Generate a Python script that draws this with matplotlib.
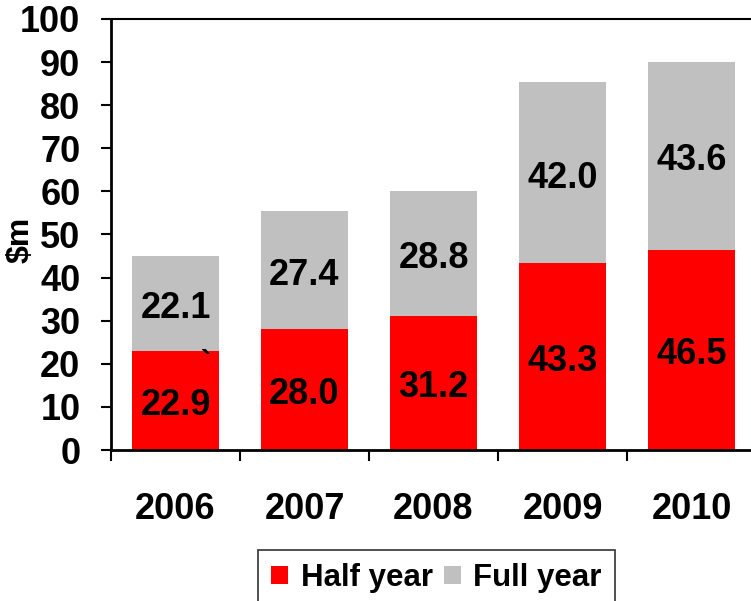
import matplotlib
matplotlib.use("Agg")
import matplotlib.pyplot as plt
import numpy as np

# ---- data ----
years = ["2006", "2007", "2008", "2009", "2010"]
half_year = [22.9, 28.0, 31.2, 43.3, 46.5]
full_year = [22.1, 27.4, 28.8, 42.0, 43.6]
y_ticks = [0, 10, 20, 30, 40, 50, 60, 70, 80, 90, 100]
series_names = ["Half year", "Full year"]
y_label = "$m"

# ---- style ----
RED = "#FF0000"
GREY = "#C0C0C0"
plt.rcParams["font.family"] = ["Liberation Sans", "DejaVu Sans"]
plt.rcParams["font.weight"] = "bold"

W, H = 751, 601
fig = plt.figure(figsize=(W / 100, H / 100), dpi=100)
# axes in pixel terms: left 111, right 756 (past edge), bottom 450, top 19
ax = fig.add_axes([111 / W, (H - 450) / H, (756 - 111) / W, (450 - 19) / H])

x = np.arange(len(years))
bw = 0.675
b1 = ax.bar(x, half_year, width=bw, color=RED, edgecolor="none", label=series_names[0], zorder=2)
b2 = ax.bar(x, full_year, width=bw, bottom=half_year, color=GREY, edgecolor="none",
            label=series_names[1], zorder=2)

# value labels
FS = 26
lab_off = -1.2
for i in range(len(years)):
    ax.text(x[i], half_year[i] / 2 + lab_off, f"{half_year[i]:.1f}", ha="center", va="center",
            fontsize=FS, fontweight="bold", color="black", zorder=3)
    ax.text(x[i], half_year[i] + full_year[i] / 2 + lab_off, f"{full_year[i]:.1f}", ha="center",
            va="center", fontsize=FS, fontweight="bold", color="black", zorder=3)
# stray mark in the 2006 bar
ax.text(x[0] + 0.24, half_year[0] - 3.0, "`", ha="center", va="center", fontsize=22,
        fontweight="bold", color="black", zorder=3)

ax.set_xlim(-0.5, len(years) - 0.5)
ax.set_ylim(0, 100)
ax.set_yticks(y_ticks)
ax.set_yticklabels([str(t) for t in y_ticks], fontsize=FS, fontweight="bold")
ax.tick_params(axis="y", direction="out", length=7, width=1.5, pad=15)

ax.set_xticks(x)
ax.set_xticklabels(years, fontsize=FS, fontweight="bold")
ax.set_xticks(np.arange(len(years) + 1) - 0.5, minor=True)
ax.tick_params(axis="x", which="major", length=0, pad=30)
ax.tick_params(axis="x", which="minor", direction="out", length=8, width=1.5)

ax.spines["left"].set_linewidth(2)
ax.spines["bottom"].set_linewidth(2)
ax.spines["top"].set_linewidth(1.5)
ax.spines["right"].set_visible(False)

fig.text(21 / W, (H - 240) / H, y_label, rotation=90, ha="center", va="center",
         fontsize=23, fontweight="bold")

leg = fig.legend(handles=[b1, b2], labels=series_names, loc="upper left",
                 bbox_to_anchor=(258 / W, (H - 550) / H), bbox_transform=fig.transFigure,
                 ncol=2, frameon=True, fancybox=False, edgecolor="black",
                 handlelength=0.55, handleheight=0.55, handletextpad=0.4, columnspacing=0.35,
                 borderpad=0.42, borderaxespad=0, prop={"weight": "bold", "size": 22.5})
leg.get_frame().set_linewidth(1.2)

fig.savefig("out.png", dpi=100)
